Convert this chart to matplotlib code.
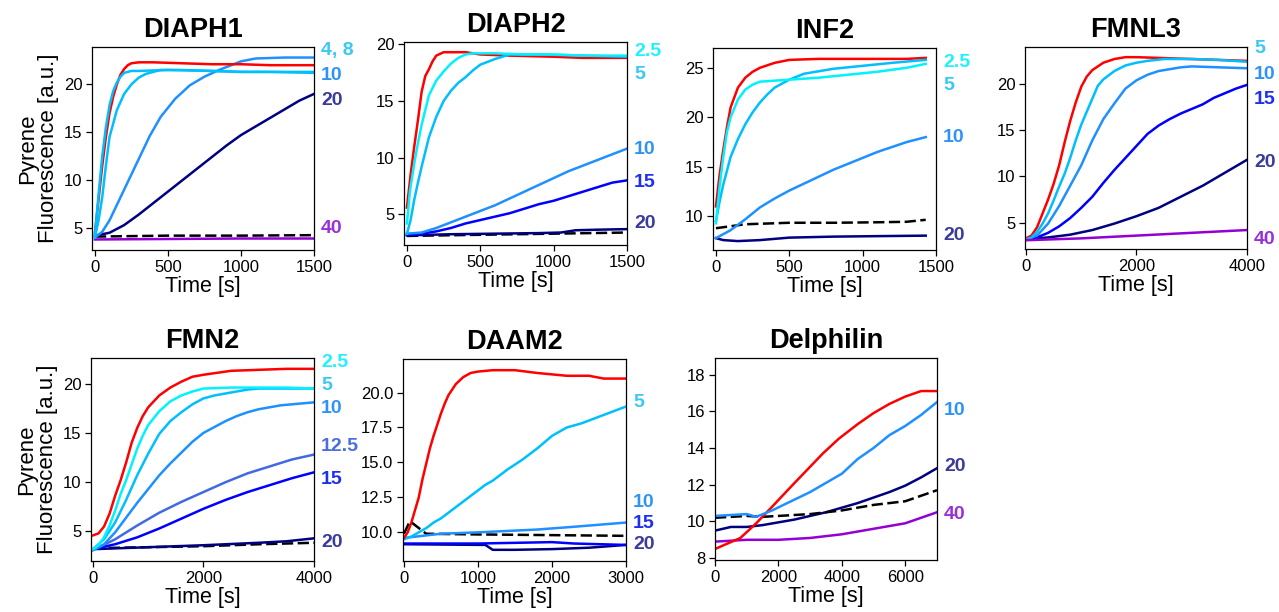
"""Pyrene actin assembly traces for seven formins, rebuilt as a 2x4 panel figure."""

import matplotlib.pyplot as plt

plt.rcParams["font.family"] = ["Liberation Sans", "DejaVu Sans"]

FIG_W, FIG_H = 1279, 612

RED = "#ff0000"
CYAN = "#00f2ff"
DSB = "#00bfff"
DODGER = "#1e90ff"
ROYAL = "#4169e1"
BLUE = "#0000ff"
NAVY = "#000080"
VIOLET = "#9400d3"

LABEL_COLORS = {
    "2.5": "#1ef2ff",
    "5": "#38c9f5",
    "4, 8": "#38c9f5",
    "10": "#2e93f5",
    "12.5": "#4a6ee0",
    "15": "#1f2ff0",
    "20": "#3b3b9c",
    "40": "#9a2ed8",
}

# ---- DIAPH1 ----
diaph1_red_t = [0, 25, 50, 75, 100, 125, 150, 175, 200, 225, 250, 300, 400, 600, 800, 1000, 1200, 1500]
diaph1_red_y = [4.5, 8, 11.5, 14.5, 17, 18.7, 20, 21, 21.6, 22, 22.2, 22.3, 22.3, 22.2, 22.1, 22.1, 22.0, 22.0]
diaph1_c4_t = [0, 25, 50, 75, 100, 125, 150, 175, 200, 250, 300, 500, 800, 1000, 1500]
diaph1_c4_y = [4.2, 8.5, 12.5, 15.5, 17.8, 19.3, 20.2, 20.8, 21.2, 21.4, 21.4, 21.5, 21.4, 21.3, 21.3]
diaph1_c8_t = [0, 25, 50, 75, 100, 150, 200, 250, 300, 350, 400, 450, 600, 800, 1000, 1200, 1500]
diaph1_c8_y = [4.0, 5.8, 8.2, 11.5, 14.5, 17.3, 19.0, 20.0, 20.7, 21.1, 21.3, 21.5, 21.5, 21.4, 21.3, 21.3, 21.2]
diaph1_c10_t = [0, 50, 100, 150, 200, 250, 300, 375, 450, 550, 650, 750, 850, 1000, 1100, 1300, 1500]
diaph1_c10_y = [4.0, 4.6, 5.8, 7.4, 9.0, 10.6, 12.2, 14.6, 16.6, 18.5, 19.9, 20.8, 21.5, 22.4, 22.7, 22.8, 22.8]
diaph1_c20_t = [0, 100, 200, 300, 400, 500, 600, 700, 800, 900, 1000, 1100, 1200, 1300, 1400, 1500]
diaph1_c20_y = [4.2, 4.5, 5.3, 6.4, 7.6, 8.8, 10.0, 11.2, 12.4, 13.6, 14.7, 15.6, 16.5, 17.4, 18.3, 19.0]
diaph1_c40_t = [0, 500, 1000, 1500]
diaph1_c40_y = [3.8, 3.85, 3.9, 3.9]
diaph1_ctrl_t = [0, 500, 1000, 1500]
diaph1_ctrl_y = [4.1, 4.2, 4.2, 4.25]
diaph1_labels = ["4, 8", "10", "20", "40"]

# ---- DIAPH2 ----
diaph2_red_t = [0, 25, 50, 75, 100, 125, 150, 175, 200, 250, 300, 400, 500, 700, 1000, 1200, 1500]
diaph2_red_y = [5.6, 8.5, 11, 13.3, 15.8, 17.2, 17.8, 18.5, 19.0, 19.3, 19.3, 19.3, 19.1, 19.0, 18.9, 18.8, 18.8]
diaph2_c2_t = [0, 20, 50, 75, 100, 150, 200, 250, 300, 350, 400, 450, 600, 800, 1000, 1200, 1500]
diaph2_c2_y = [4.2, 7.0, 9.5, 11.3, 12.9, 15.5, 16.8, 17.6, 18.3, 18.8, 19.1, 19.2, 19.2, 19.1, 19.1, 19.0, 19.0]
diaph2_c5_t = [0, 25, 50, 75, 100, 150, 200, 250, 300, 350, 400, 450, 500, 600, 700, 900, 1200, 1500]
diaph2_c5_y = [3.3, 4.5, 6.3, 7.8, 9.2, 11.8, 13.6, 15.0, 15.9, 16.6, 17.1, 17.7, 18.2, 18.7, 19.1, 19.1, 19.0, 18.9]
diaph2_c10_t = [0, 100, 200, 300, 400, 500, 600, 700, 800, 900, 1000, 1100, 1200, 1300, 1400, 1500]
diaph2_c10_y = [3.3, 3.4, 3.8, 4.3, 4.8, 5.3, 5.8, 6.4, 7.0, 7.6, 8.2, 8.8, 9.3, 9.8, 10.3, 10.8]
diaph2_c15_t = [0, 100, 200, 300, 400, 500, 600, 700, 800, 900, 1000, 1100, 1200, 1300, 1400, 1500]
diaph2_c15_y = [3.2, 3.3, 3.5, 3.8, 4.2, 4.5, 4.8, 5.1, 5.5, 5.9, 6.2, 6.6, 7.0, 7.4, 7.8, 8.0]
diaph2_c20_t = [0, 300, 600, 900, 1050, 1150, 1300, 1500]
diaph2_c20_y = [3.15, 3.25, 3.3, 3.35, 3.4, 3.6, 3.65, 3.7]
diaph2_ctrl_t = [0, 500, 1000, 1500]
diaph2_ctrl_y = [3.1, 3.2, 3.3, 3.4]
diaph2_labels = ["2.5", "5", "10", "15", "20"]

# ---- INF2 ----
inf2_red_t = [0, 25, 50, 75, 100, 150, 200, 250, 300, 400, 500, 700, 900, 1100, 1300, 1430]
inf2_red_y = [11.0, 14.2, 16.7, 19.0, 21.0, 23.0, 24.0, 24.6, 25.0, 25.5, 25.8, 25.9, 25.9, 25.9, 25.9, 26.0]
inf2_c2_t = [0, 25, 50, 75, 100, 150, 200, 250, 300, 400, 500, 700, 900, 1100, 1300, 1430]
inf2_c2_y = [9.3, 13.0, 16.0, 18.5, 20.0, 21.8, 22.8, 23.3, 23.6, 23.7, 23.8, 24.0, 24.3, 24.6, 25.0, 25.4]
inf2_c5_t = [0, 25, 50, 100, 150, 200, 250, 300, 350, 400, 500, 600, 800, 1000, 1200, 1430]
inf2_c5_y = [9.5, 11.5, 13.2, 16.0, 17.8, 19.3, 20.5, 21.5, 22.3, 23.0, 23.8, 24.4, 24.9, 25.2, 25.5, 25.8]
inf2_c10_t = [0, 100, 200, 300, 400, 500, 600, 700, 800, 900, 1000, 1100, 1200, 1300, 1430]
inf2_c10_y = [7.8, 8.6, 9.7, 10.9, 11.8, 12.6, 13.3, 14.0, 14.7, 15.3, 15.9, 16.5, 17.0, 17.5, 18.0]
inf2_c20_t = [0, 50, 150, 300, 500, 800, 1100, 1430]
inf2_c20_y = [7.8, 7.6, 7.5, 7.6, 7.85, 7.95, 8.0, 8.05]
inf2_ctrl_t = [0, 50, 200, 500, 800, 1100, 1300, 1430]
inf2_ctrl_y = [8.8, 8.9, 9.2, 9.35, 9.35, 9.4, 9.45, 9.65]
inf2_labels = ["2.5", "5", "10", "20"]

# ---- FMNL3 ----
fmnl3_red_t = [0, 100, 200, 300, 400, 500, 600, 700, 800, 900, 1000, 1100, 1200, 1400, 1600, 1800, 2000, 2500, 3000, 3500, 4000]
fmnl3_red_y = [3.3, 3.6, 4.5, 6.0, 7.5, 9.2, 11.2, 13.7, 16.0, 18.0, 19.7, 20.8, 21.5, 22.3, 22.7, 22.9, 22.9, 22.8, 22.7, 22.6, 22.5]
fmnl3_c5_t = [0, 100, 200, 300, 400, 500, 600, 700, 800, 900, 1000, 1100, 1200, 1300, 1400, 1600, 1800, 2000, 2200, 2500, 3000, 3500, 4000]
fmnl3_c5_y = [3.2, 3.4, 4.0, 4.9, 6.0, 7.4, 8.9, 10.3, 12.0, 13.9, 15.6, 17.0, 18.4, 19.8, 20.5, 21.4, 22.0, 22.3, 22.5, 22.7, 22.7, 22.6, 22.4]
fmnl3_c10_t = [0, 200, 400, 600, 800, 1000, 1200, 1400, 1600, 1800, 2000, 2200, 2400, 2600, 2800, 3000, 3500, 4000]
fmnl3_c10_y = [3.2, 3.6, 4.9, 6.8, 9.0, 11.2, 13.9, 16.2, 17.9, 19.5, 20.4, 21.0, 21.4, 21.6, 21.8, 21.9, 21.8, 21.7]
fmnl3_c15_t = [0, 200, 400, 600, 800, 1000, 1200, 1400, 1600, 1800, 2000, 2200, 2400, 2600, 2800, 3000, 3200, 3400, 3600, 3800, 4000]
fmnl3_c15_y = [3.2, 3.4, 3.9, 4.6, 5.5, 6.6, 7.8, 9.3, 10.7, 12.0, 13.3, 14.6, 15.5, 16.2, 16.8, 17.3, 17.8, 18.5, 19.0, 19.5, 19.9]
fmnl3_c20_t = [0, 400, 800, 1200, 1600, 2000, 2400, 2800, 3200, 3600, 4000]
fmnl3_c20_y = [3.2, 3.4, 3.7, 4.2, 4.9, 5.7, 6.6, 7.8, 9.0, 10.4, 11.8]
fmnl3_c40_t = [0, 1000, 2000, 3000, 4000]
fmnl3_c40_y = [3.1, 3.3, 3.6, 3.9, 4.2]
fmnl3_labels = ["5", "10", "15", "20", "40"]

# ---- FMN2 ----
fmn2_red_t = [0, 100, 200, 300, 400, 500, 600, 700, 800, 900, 1000, 1100, 1200, 1400, 1600, 1800, 2000, 2500, 3000, 3500, 4000]
fmn2_red_y = [4.6, 4.8, 5.5, 6.8, 8.6, 10.2, 12.0, 14.0, 15.5, 16.7, 17.6, 18.2, 18.8, 19.6, 20.2, 20.7, 20.9, 21.3, 21.4, 21.5, 21.5]
fmn2_c2_t = [0, 100, 200, 300, 400, 500, 600, 700, 800, 900, 1000, 1200, 1400, 1600, 1800, 2000, 2500, 3000, 3500, 4000]
fmn2_c2_y = [3.2, 3.6, 4.4, 5.6, 7.1, 8.8, 10.2, 11.8, 13.4, 14.7, 15.8, 17.2, 18.2, 18.8, 19.2, 19.5, 19.6, 19.6, 19.6, 19.5]
fmn2_c5_t = [0, 200, 400, 600, 800, 1000, 1200, 1400, 1600, 1800, 2000, 2200, 2400, 2600, 2800, 3000, 3500, 4000]
fmn2_c5_y = [3.2, 4.2, 5.9, 8.2, 10.7, 12.9, 14.9, 16.2, 17.1, 17.9, 18.5, 18.8, 19.0, 19.2, 19.4, 19.5, 19.5, 19.5]
fmn2_c10_t = [0, 200, 400, 600, 800, 1000, 1200, 1400, 1600, 1800, 2000, 2200, 2400, 2600, 2800, 3000, 3200, 3400, 3600, 3800, 4000]
fmn2_c10_y = [3.1, 3.7, 4.9, 6.4, 7.9, 9.3, 10.7, 11.9, 13.0, 14.1, 15.0, 15.6, 16.2, 16.7, 17.1, 17.4, 17.6, 17.8, 17.9, 18.0, 18.1]
fmn2_c12_t = [0, 400, 800, 1200, 1600, 2000, 2400, 2800, 3200, 3600, 4000]
fmn2_c12_y = [3.1, 4.2, 5.6, 6.9, 8.0, 9.0, 10.0, 10.9, 11.6, 12.3, 12.8]
fmn2_c15_t = [0, 400, 800, 1200, 1600, 2000, 2400, 2800, 3200, 3600, 4000]
fmn2_c15_y = [3.2, 3.7, 4.4, 5.3, 6.3, 7.3, 8.2, 9.0, 9.7, 10.4, 11.0]
fmn2_c20_t = [0, 1000, 2000, 3000, 3500, 4000]
fmn2_c20_y = [3.2, 3.4, 3.6, 3.85, 4.0, 4.3]
fmn2_ctrl_t = [0, 1000, 2000, 3000, 4000]
fmn2_ctrl_y = [3.3, 3.4, 3.5, 3.7, 3.85]
fmn2_labels = ["2.5", "5", "10", "12.5", "15", "20"]

# ---- DAAM2 ----
daam2_red_t = [0, 50, 100, 150, 200, 250, 300, 350, 400, 450, 500, 550, 600, 700, 800, 900, 1000, 1200, 1500, 1800, 2000, 2200, 2500, 2700, 3000]
daam2_red_y = [9.6, 10.0, 10.7, 11.6, 12.5, 13.8, 14.9, 16.0, 16.9, 17.7, 18.5, 19.2, 19.8, 20.6, 21.1, 21.4, 21.5, 21.6, 21.6, 21.4, 21.3, 21.2, 21.2, 21.0, 21.0]
daam2_c5_t = [0, 100, 200, 300, 400, 500, 600, 700, 800, 900, 1000, 1100, 1200, 1400, 1600, 1800, 2000, 2200, 2400, 2600, 2800, 3000]
daam2_c5_y = [9.5, 9.7, 10.0, 10.3, 10.7, 11.0, 11.4, 11.8, 12.2, 12.6, 13.0, 13.4, 13.7, 14.5, 15.2, 16.0, 16.9, 17.5, 17.8, 18.2, 18.6, 19.0]
daam2_c10_t = [0, 500, 1000, 1800, 2300, 3000]
daam2_c10_y = [9.6, 9.9, 10.0, 10.2, 10.4, 10.7]
daam2_c15_t = [0, 1000, 2000, 2300, 3000]
daam2_c15_y = [9.2, 9.2, 9.3, 9.2, 9.1]
daam2_c20_t = [0, 1100, 1200, 1500, 2000, 2500, 3000]
daam2_c20_y = [9.15, 9.1, 8.75, 8.75, 8.8, 8.9, 9.1]
daam2_ctrl_t = [0, 80, 300, 1000, 2000, 3000]
daam2_ctrl_y = [9.9, 10.8, 9.9, 9.85, 9.8, 9.75]
daam2_labels = ["5", "10", "15", "20"]

# ---- Delphilin ----
delph_red_t = [0, 400, 800, 1300, 1800, 2400, 2900, 3400, 3900, 4500, 5000, 5500, 6000, 6500, 7000]
delph_red_y = [8.5, 8.8, 9.1, 9.9, 10.8, 11.9, 12.8, 13.7, 14.5, 15.3, 15.9, 16.4, 16.8, 17.1, 17.1]
delph_c10_t = [0, 500, 1000, 1300, 1800, 2400, 3000, 3500, 4000, 4500, 5000, 5500, 6000, 6500, 7000]
delph_c10_y = [10.3, 10.35, 10.4, 10.25, 10.6, 11.1, 11.6, 12.1, 12.6, 13.4, 14.0, 14.7, 15.2, 15.8, 16.5]
delph_c20_t = [0, 500, 1000, 1500, 2000, 2500, 3000, 3500, 4000, 4500, 5000, 5500, 6000, 6500, 7000]
delph_c20_y = [9.5, 9.7, 9.7, 9.8, 9.95, 10.1, 10.3, 10.5, 10.75, 11.0, 11.3, 11.6, 11.95, 12.4, 12.9]
delph_c40_t = [0, 1000, 2000, 3000, 4000, 5000, 6000, 7000]
delph_c40_y = [8.9, 9.0, 9.0, 9.1, 9.3, 9.6, 9.9, 10.5]
delph_ctrl_t = [0, 1000, 1500, 2000, 3000, 4000, 5000, 6000, 7000]
delph_ctrl_y = [10.2, 10.3, 10.25, 10.3, 10.4, 10.6, 10.9, 11.1, 11.7]
delph_labels = ["10", "20", "40"]


def px_rect(left, top, right, bottom):
    return [left / FIG_W, 1 - bottom / FIG_H, (right - left) / FIG_W, (bottom - top) / FIG_H]


def draw_panel(fig, rect, title, curves, labels, label_y, xlim, ylim, xticks, yticks,
               ylabel=False, yfmt=None, title_x=0.5):
    ax = fig.add_axes(rect)
    for t, y, color, dashed in curves:
        if dashed:
            ax.plot(t, y, color="black", lw=1.8, linestyle=(0, (4.5, 1.8)))
        else:
            ax.plot(t, y, color=color, lw=1.8)
    ax.set_xlim(*xlim)
    ax.set_ylim(*ylim)
    ax.set_xticks(xticks)
    ax.set_yticks(yticks)
    if yfmt:
        ax.set_yticklabels([yfmt.format(v) for v in yticks])
    ax.tick_params(labelsize=12, length=4, width=0.9, pad=3)
    for sp in ax.spines.values():
        sp.set_linewidth(0.9)
    ax.set_title(title, fontsize=19.5, fontweight="bold", pad=7, x=title_x)
    ax.set_xlabel("Time [s]", fontsize=15.5, labelpad=1)
    if ylabel:
        ax.set_ylabel("Pyrene\nFluorescence [a.u.]", fontsize=16, labelpad=3,
                      linespacing=1.05)
    for text, yv in zip(labels, label_y):
        ax.annotate(text, xy=(1, yv), xycoords=("axes fraction", "data"),
                    xytext=(5, 0), textcoords="offset points",
                    ha="left", va="center", fontsize=14, fontweight="bold",
                    color=LABEL_COLORS[text], annotation_clip=False)
    return ax


def main():
    fig = plt.figure(figsize=(FIG_W / 100, FIG_H / 100), dpi=100)

    draw_panel(
        fig, px_rect(92, 47, 314, 250), "DIAPH1",
        [
            (diaph1_c40_t, diaph1_c40_y, VIOLET, False),
            (diaph1_ctrl_t, diaph1_ctrl_y, None, True),
            (diaph1_c20_t, diaph1_c20_y, NAVY, False),
            (diaph1_c10_t, diaph1_c10_y, DODGER, False),
            (diaph1_red_t, diaph1_red_y, RED, False),
            (diaph1_c8_t, diaph1_c8_y, DSB, False),
            (diaph1_c4_t, diaph1_c4_y, DSB, False),
        ],
        diaph1_labels, [23.5, 20.9, 18.3, 4.9],
        (-20, 1500), (2.7, 23.9), [0, 500, 1000, 1500], [5, 10, 15, 20], ylabel=True,
        title_x=0.455,
    )
    draw_panel(
        fig, px_rect(404, 42, 627, 245), "DIAPH2",
        [
            (diaph2_ctrl_t, diaph2_ctrl_y, None, True),
            (diaph2_c20_t, diaph2_c20_y, NAVY, False),
            (diaph2_c15_t, diaph2_c15_y, BLUE, False),
            (diaph2_c10_t, diaph2_c10_y, DODGER, False),
            (diaph2_red_t, diaph2_red_y, RED, False),
            (diaph2_c5_t, diaph2_c5_y, DSB, False),
            (diaph2_c2_t, diaph2_c2_y, CYAN, False),
        ],
        diaph2_labels, [19.4, 17.35, 10.7, 7.85, 4.2],
        (-20, 1500), (2.3, 20.2), [0, 500, 1000, 1500], [5, 10, 15, 20],
    )
    draw_panel(
        fig, px_rect(713, 48, 936, 250), "INF2",
        [
            (inf2_c20_t, inf2_c20_y, NAVY, False),
            (inf2_ctrl_t, inf2_ctrl_y, None, True),
            (inf2_c10_t, inf2_c10_y, DODGER, False),
            (inf2_red_t, inf2_red_y, RED, False),
            (inf2_c5_t, inf2_c5_y, DSB, False),
            (inf2_c2_t, inf2_c2_y, CYAN, False),
        ],
        inf2_labels, [25.5, 23.2, 18.0, 8.1],
        (-20, 1500), (6.6, 27.0), [0, 500, 1000, 1500], [10, 15, 20, 25],
    )
    draw_panel(
        fig, px_rect(1025, 47, 1247, 249), "FMNL3",
        [
            (fmnl3_c20_t, fmnl3_c20_y, NAVY, False),
            (fmnl3_c15_t, fmnl3_c15_y, BLUE, False),
            (fmnl3_c10_t, fmnl3_c10_y, DODGER, False),
            (fmnl3_red_t, fmnl3_red_y, RED, False),
            (fmnl3_c5_t, fmnl3_c5_y, DSB, False),
            (fmnl3_c40_t, fmnl3_c40_y, VIOLET, False),
        ],
        fmnl3_labels, [23.8, 21.0, 18.3, 11.5, 3.2],
        (-18, 4000), (2.15, 24.0), [0, 2000, 4000], [5, 10, 15, 20],
    )
    draw_panel(
        fig, px_rect(91, 358, 314, 561), "FMN2",
        [
            (fmn2_ctrl_t, fmn2_ctrl_y, None, True),
            (fmn2_c20_t, fmn2_c20_y, NAVY, False),
            (fmn2_c15_t, fmn2_c15_y, BLUE, False),
            (fmn2_c12_t, fmn2_c12_y, ROYAL, False),
            (fmn2_c10_t, fmn2_c10_y, DODGER, False),
            (fmn2_c5_t, fmn2_c5_y, DSB, False),
            (fmn2_c2_t, fmn2_c2_y, CYAN, False),
            (fmn2_red_t, fmn2_red_y, RED, False),
        ],
        fmn2_labels, [22.1, 19.8, 17.45, 13.6, 10.3, 3.9],
        (-36, 4000), (2.0, 22.6), [0, 2000, 4000], [5, 10, 15, 20], ylabel=True,
    )
    draw_panel(
        fig, px_rect(403, 359, 626, 561), "DAAM2",
        [
            (daam2_c20_t, daam2_c20_y, NAVY, False),
            (daam2_c15_t, daam2_c15_y, BLUE, False),
            (daam2_ctrl_t, daam2_ctrl_y, None, True),
            (daam2_c10_t, daam2_c10_y, DODGER, False),
            (daam2_c5_t, daam2_c5_y, DSB, False),
            (daam2_red_t, daam2_red_y, RED, False),
        ],
        daam2_labels, [19.3, 12.1, 10.6, 9.1],
        (-13, 3000), (7.95, 22.4), [0, 1000, 2000, 3000],
        [10.0, 12.5, 15.0, 17.5, 20.0], yfmt="{:.1f}",
    )
    draw_panel(
        fig, px_rect(715, 358, 937, 560), "Delphilin",
        [
            (delph_c40_t, delph_c40_y, VIOLET, False),
            (delph_c20_t, delph_c20_y, NAVY, False),
            (delph_ctrl_t, delph_ctrl_y, None, True),
            (delph_red_t, delph_red_y, RED, False),
            (delph_c10_t, delph_c10_y, DODGER, False),
        ],
        delph_labels, [16.05, 13.0, 10.4],
        (0, 7000), (7.9, 18.9), [0, 2000, 4000, 6000], [8, 10, 12, 14, 16, 18],
    )

    fig.savefig("out.png", dpi=100)
    plt.close(fig)


if __name__ == "__main__":
    main()
